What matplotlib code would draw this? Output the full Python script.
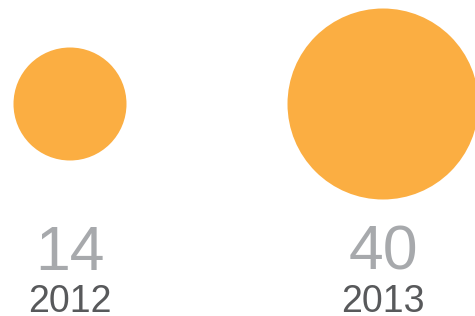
import numpy as np
import matplotlib.pyplot as plt

years = ["2012", "2013"]
values = [14, 40]

orange = "#FBAE42"
num_grey = "#A7A9AC"
year_grey = "#58595B"

fig = plt.figure(figsize=(4.75, 3.16), dpi=100)
ax = fig.add_axes([0, 0, 1, 1])
ax.set_xlim(0, 475)
ax.set_ylim(316, 0)
ax.set_aspect("equal")
ax.axis("off")

# circle area proportional to the value
scale = 15.1
centers_x = [70, 383]
cy = 104

for x, v, yr in zip(centers_x, values, years):
    r = scale * np.sqrt(v)
    ax.add_patch(plt.Circle((x, cy), r, color=orange, lw=0))
    ax.text(x, 270, str(v), ha="center", va="baseline", fontsize=45,
            color=num_grey, family="Liberation Sans")
    ax.text(x, 312, yr, ha="center", va="baseline", fontsize=27,
            color=year_grey, family="Liberation Sans")

fig.savefig("out.png", dpi=100)
